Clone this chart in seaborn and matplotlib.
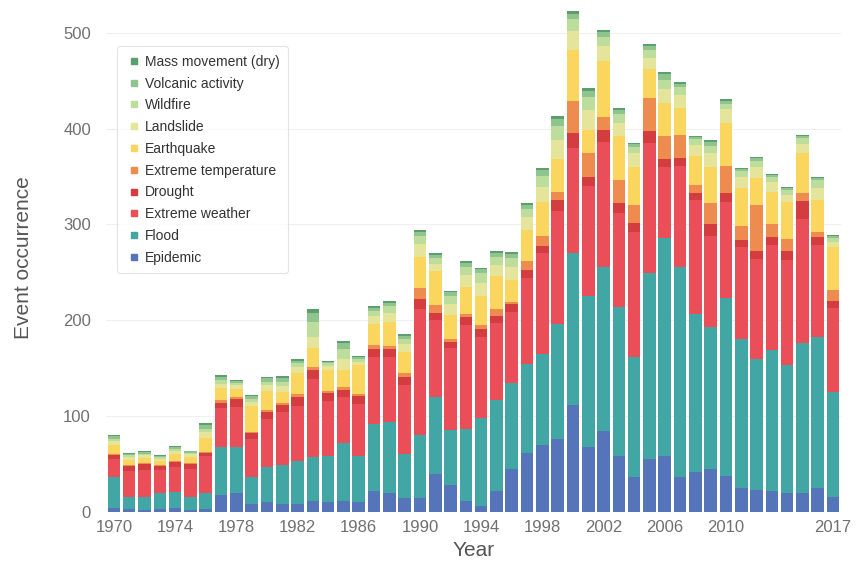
import numpy as np
import pandas as pd
import matplotlib
matplotlib.use("Agg")
import matplotlib.pyplot as plt
from matplotlib.lines import Line2D
import seaborn as sns

# -----------------------------------------------------------------------------
# data (events per year, by type)
years = list(range(1970, 2018))

epidemic = [4, 3, 2, 3, 4, 2, 3, 18, 20, 8, 10, 8, 8, 12, 10, 12,
            10, 22, 20, 15, 15, 40, 28, 12, 6, 22, 45, 62, 70, 76, 112, 68,
            84, 58, 36, 55, 58, 37, 42, 45, 38, 25, 23, 22, 20, 20, 25, 16]
flood = [33, 13, 14, 17, 17, 14, 17, 50, 48, 28, 37, 41, 45, 45, 48, 60,
         48, 70, 74, 45, 65, 80, 58, 75, 92, 95, 90, 92, 95, 120, 158, 157,
         172, 156, 126, 194, 228, 219, 165, 148, 185, 156, 137, 147, 133, 156, 158, 109]
extreme_weather = [18, 27, 28, 24, 26, 29, 38, 40, 42, 40, 50, 55, 58, 82, 58, 48,
                   55, 70, 68, 72, 132, 80, 85, 108, 85, 80, 74, 90, 105, 118, 110, 115,
                   130, 98, 130, 136, 74, 105, 118, 95, 100, 95, 104, 110, 110, 130, 96, 88]
drought = [4, 5, 6, 4, 5, 5, 4, 6, 8, 6, 7, 8, 9, 9, 8, 7,
           8, 8, 8, 9, 10, 8, 6, 8, 8, 7, 8, 8, 8, 12, 15, 10,
           12, 10, 10, 12, 8, 8, 8, 12, 10, 8, 8, 8, 9, 18, 8, 7]
extreme_temp = [1, 1, 1, 1, 1, 1, 1, 3, 2, 1, 2, 2, 3, 3, 2, 3,
                2, 4, 3, 4, 12, 8, 3, 4, 4, 8, 2, 10, 10, 8, 34, 24,
                14, 24, 18, 35, 24, 24, 8, 22, 28, 14, 48, 13, 13, 9, 5, 12]
earthquake = [10, 5, 5, 4, 7, 6, 14, 12, 8, 28, 20, 11, 22, 20, 22, 18,
              30, 22, 25, 22, 32, 35, 25, 28, 30, 34, 23, 32, 35, 34, 53, 25,
              58, 46, 40, 30, 35, 28, 30, 38, 45, 40, 28, 34, 38, 41, 34, 44]
landslide = [4, 3, 3, 2, 4, 3, 6, 5, 4, 4, 6, 6, 6, 12, 4, 12,
             4, 8, 10, 8, 14, 8, 12, 12, 14, 12, 14, 14, 16, 20, 20, 20,
             16, 14, 14, 12, 14, 14, 12, 14, 14, 12, 12, 10, 8, 10, 12, 6]
wildfire = [2, 2, 2, 2, 2, 2, 4, 4, 3, 3, 4, 5, 4, 15, 3, 10,
            3, 6, 7, 6, 8, 6, 8, 9, 10, 8, 9, 8, 12, 15, 12, 14,
            10, 9, 7, 8, 10, 8, 6, 8, 6, 6, 6, 6, 5, 6, 8, 4]
volcanic = [3, 2, 2, 1, 2, 2, 4, 3, 2, 3, 4, 4, 3, 10, 2, 6,
            2, 3, 3, 3, 4, 3, 4, 4, 4, 4, 4, 4, 6, 7, 6, 6,
            5, 4, 3, 4, 6, 4, 2, 4, 3, 2, 3, 2, 2, 2, 2, 2]
mass_movement = [1, 1, 1, 1, 1, 0, 2, 2, 1, 1, 1, 2, 2, 4, 1, 2,
                 1, 2, 2, 2, 2, 2, 2, 2, 2, 2, 2, 2, 2, 3, 3, 3,
                 2, 2, 1, 2, 2, 2, 1, 2, 2, 1, 1, 1, 1, 1, 1, 1]

types = ["Mass movement (dry)", "Volcanic activity", "Wildfire", "Landslide",
         "Earthquake", "Extreme temperature", "Drought", "Extreme weather",
         "Flood", "Epidemic"]
series = [mass_movement, volcanic, wildfire, landslide, earthquake,
          extreme_temp, drought, extreme_weather, flood, epidemic]
colors = ["#5b9f6f", "#8fc48f", "#bddd9c", "#e4e59a", "#fbd65f",
          "#ee8b4e", "#d43d3f", "#ea4f59", "#42a6a5", "#5674b9"]

# -----------------------------------------------------------------------------
# long form table for seaborn
df = pd.DataFrame({
    "Year": np.tile(years, len(types)),
    "Type": np.repeat(types, len(years)),
    "Count": np.concatenate([np.array(s) for s in series]),
})

sns.set_style("whitegrid", {"grid.color": "#f0f0f0", "axes.edgecolor": "white"})
plt.rcParams["font.family"] = ["Liberation Sans", "DejaVu Sans"]

fig = plt.figure(figsize=(8.57, 5.66), dpi=100)
ax = fig.add_axes([0.124, 0.0954, 0.857, 0.8976])

sns.histplot(data=df, x="Year", weights="Count", hue="Type", hue_order=types,
             multiple="stack", discrete=True, shrink=0.82, palette=colors,
             alpha=1, linewidth=0, ax=ax, legend=False)

ax.set_xlim(1969.5, 2017.5)
ax.set_ylim(0, 530)
ax.set_xticks(list(range(1970, 2011, 4)) + [2017])
ax.set_yticks(range(0, 501, 100))
ax.tick_params(axis="both", labelsize=12, colors="#707070", length=0)
ax.tick_params(axis="x", pad=6)
ax.tick_params(axis="y", pad=11)
ax.xaxis.grid(False)
ax.set_xlabel("Year", fontsize=15, color="#555555", labelpad=4)
ax.set_ylabel("Event occurrence", fontsize=15, color="#555555", labelpad=22)
for s in ax.spines.values():
    s.set_visible(False)

# -----------------------------------------------------------------------------
# legend with small square markers
handles = [Line2D([], [], marker="s", linestyle="none", markersize=5,
                  markerfacecolor=c, markeredgecolor=c) for c in colors]
leg = ax.legend(handles, types, loc="upper left", bbox_to_anchor=(0.005, 0.93),
                fontsize=10, frameon=True, handletextpad=0.2, labelspacing=0.56,
                borderpad=0.6, handlelength=1.2)
leg.get_frame().set_edgecolor("#dddddd")
leg.get_frame().set_linewidth(0.8)
for t in leg.get_texts():
    t.set_color("#333333")

fig.savefig("out.png", dpi=100)
